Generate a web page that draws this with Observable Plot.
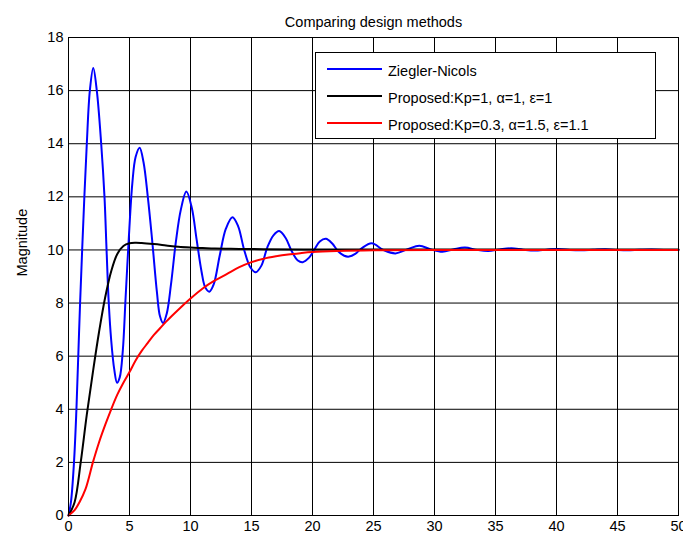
<!DOCTYPE html>
<html>
<head>
<meta charset="utf-8">
<script src="https://cdn.jsdelivr.net/npm/d3@7"></script>
<script src="https://cdn.jsdelivr.net/npm/@observablehq/plot@0.6"></script>
<style>
  html, body { margin: 0; padding: 0; background: #fff; }
  #wrap { position: relative; width: 683px; height: 542px; font-family: "Liberation Sans", Arial, sans-serif; }
  #legend { position: absolute; left: 315px; top: 52px; width: 341px; height: 87px; border: 1px solid #000; background: #fff; box-sizing: border-box; }
  .row { position: absolute; left: 11px; height: 20px; display: flex; align-items: center; font-size: 14.5px; color: #000; white-space: nowrap; }
  .row svg { margin-right: 6px; }
</style>
</head>
<body>
<div id="wrap"></div>
<script>
const title = "Comparing design methods";
const yLabel = "Magnitude";
const xTicks = [0, 5, 10, 15, 20, 25, 30, 35, 40, 45, 50];
const yTicks = [0, 2, 4, 6, 8, 10, 12, 14, 16, 18];
const seriesNames = ["Ziegler-Nicols", "Proposed:Kp=1, \u03b1=1, \u03b5=1", "Proposed:Kp=0.3, \u03b1=1.5, \u03b5=1.1"];
const seriesColors = ["#0000ff", "#000000", "#ff0000"];

// Ziegler-Nicols (blue)
const blueT = [0, 0.2, 0.45, 0.65, 0.8, 0.95, 1.12, 1.3, 1.5, 1.75, 2.03, 2.32, 2.68, 2.95, 3.12, 3.3, 3.5, 3.75, 3.98, 4.2, 4.45, 4.68, 4.95, 5.23, 5.5, 5.83, 6.15, 6.5, 6.85, 7.25, 7.5, 7.75, 8.05, 8.4, 8.8, 9.2, 9.66, 10.1, 10.5, 10.9, 11.2, 11.55, 11.9, 12.4, 12.9, 13.44, 13.9, 14.4, 14.9, 15.35, 15.8, 16.3, 16.8, 17.27, 17.8, 18.3, 18.8, 19.2, 19.7, 20.2, 20.6, 21.1, 21.6, 22.1, 22.6, 23.0, 23.5, 24.0, 24.85, 25.8, 26.8, 27.8, 28.76, 29.7, 30.65, 31.6, 32.5, 33.5, 34.4, 35.35, 36.3, 37.25, 38.2, 39.2, 40.15, 41.1, 42.0, 43.0, 44.0, 45.0, 45.8, 46.8, 47.8, 48.8, 50];
const blueV = [0, 0.5, 2, 4, 6, 8, 10, 12, 14, 16, 16.85, 16, 14, 12, 10, 8, 6.6, 5.5, 5.0, 5.2, 6.2, 8.2, 10.5, 12.5, 13.5, 13.85, 13.3, 12.0, 10.4, 8.4, 7.5, 7.25, 7.6, 8.7, 10.3, 11.5, 12.2, 11.6, 10.4, 9.2, 8.6, 8.43, 8.7, 9.8, 10.8, 11.23, 10.9, 10.0, 9.35, 9.16, 9.4, 10.1, 10.55, 10.71, 10.45, 9.95, 9.6, 9.54, 9.7, 10.05, 10.32, 10.42, 10.25, 9.95, 9.78, 9.75, 9.85, 10.05, 10.25, 10.0, 9.87, 10.03, 10.16, 10.02, 9.93, 10.03, 10.09, 10.0, 9.96, 10.02, 10.06, 10.01, 9.975, 10.01, 10.04, 10.0, 9.985, 10.005, 10.025, 10.0, 9.99, 10.005, 10.015, 10.0, 9.995];

// Proposed Kp=1 (black)
const blackT = [0, 0.5, 1.0, 1.5, 2.0, 2.5, 3.0, 3.5, 4.0, 4.5, 5.0, 5.5, 6, 7, 8, 9, 10, 11, 12, 14, 16, 20, 25, 30, 40, 50];
const blackV = [0, 0.5, 2.0, 3.8, 5.4, 6.9, 8.2, 9.2, 9.85, 10.15, 10.25, 10.27, 10.26, 10.22, 10.17, 10.12, 10.09, 10.07, 10.05, 10.04, 10.03, 10.02, 10.02, 10.02, 10.02, 10.02];

// Proposed Kp=0.3 (red)
const redT = [0, 0.5, 0.9, 1.4, 2.0, 2.5, 3.0, 3.5, 4.0, 4.5, 5.0, 5.5, 6.0, 6.5, 7.0, 7.5, 8.0, 9.0, 10, 11, 12, 13, 14, 15, 16, 17, 18, 19, 20, 22, 25, 30, 40, 50];
const redV = [0, 0.2, 0.5, 1.0, 2.0, 2.75, 3.4, 4.0, 4.55, 5.0, 5.4, 5.84, 6.2, 6.5, 6.8, 7.05, 7.3, 7.75, 8.17, 8.55, 8.85, 9.1, 9.35, 9.54, 9.67, 9.76, 9.83, 9.88, 9.92, 9.96, 9.99, 10.0, 10.0, 10.0];

const toRows = (ts, vs, name) => ts.map((t, i) => ({t, v: vs[i], name}));
const blue = toRows(blueT, blueV, seriesNames[0]);
const black = toRows(blackT, blackV, seriesNames[1]);
const red = toRows(redT, redV, seriesNames[2]);

const chart = Plot.plot({
  width: 683,
  height: 542,
  marginLeft: 68,
  marginRight: 5,
  marginTop: 37,
  marginBottom: 27,
  style: {fontFamily: "'Liberation Sans', Arial, sans-serif", fontSize: "14px", background: "#fff", overflow: "visible"},
  x: {domain: [0, 50]},
  y: {domain: [0, 18]},
  marks: [
    Plot.gridX(xTicks, {stroke: "#000", strokeOpacity: 1, strokeWidth: 1}),
    Plot.gridY(yTicks, {stroke: "#000", strokeOpacity: 1, strokeWidth: 1}),
    Plot.axisX(xTicks, {tickSize: 0, tickPadding: 5, fontSize: 14.5, label: null, fill: "#000"}),
    Plot.axisY(yTicks, {tickSize: 0, tickPadding: 5, fontSize: 14.5, label: null, fill: "#000"}),
    Plot.line(blue, {x: "t", y: "v", stroke: seriesColors[0], strokeWidth: 2, curve: "catmull-rom"}),
    Plot.line(black, {x: "t", y: "v", stroke: seriesColors[1], strokeWidth: 2, curve: "catmull-rom"}),
    Plot.line(red, {x: "t", y: "v", stroke: seriesColors[2], strokeWidth: 2, curve: "catmull-rom"}),
    Plot.frame({stroke: "#000", strokeWidth: 1}),
    Plot.text([title], {frameAnchor: "top", dy: -21, fontSize: 14.5, fill: "#000"}),
    Plot.text([yLabel], {frameAnchor: "left", dx: -46, rotate: -90, fontSize: 14.5, fill: "#000"})
  ]
});

const wrap = document.getElementById("wrap");
wrap.appendChild(chart);

const legend = document.createElement("div");
legend.id = "legend";
const rowTops = [8, 35, 62];
seriesNames.forEach((name, i) => {
  const row = document.createElement("div");
  row.className = "row";
  row.style.top = rowTops[i] + "px";
  row.innerHTML = `<svg width="55" height="12"><line x1="0" x2="55" y1="4" y2="4" stroke="${seriesColors[i]}" stroke-width="2.2"/></svg><span>${name}</span>`;
  legend.appendChild(row);
});
wrap.appendChild(legend);
</script>
</body>
</html>
